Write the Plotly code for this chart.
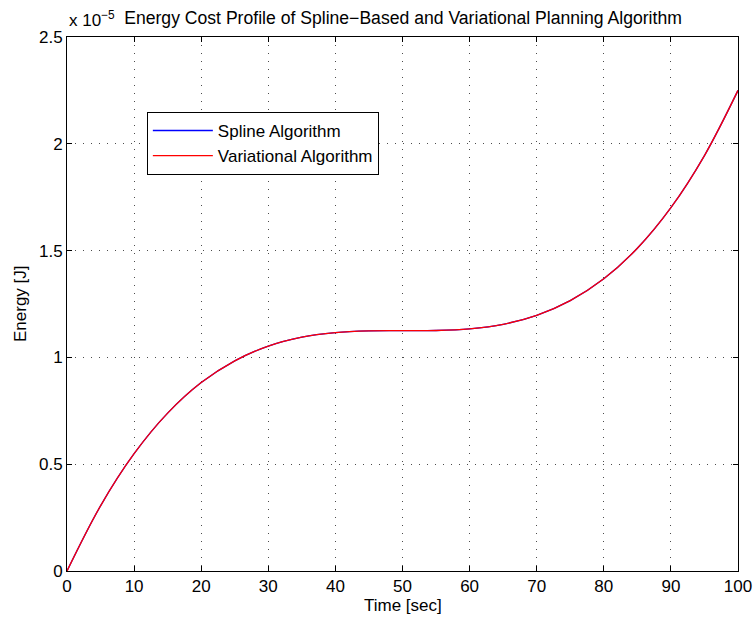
import plotly.graph_objects as go

# Time samples [sec]
time_sec = [0, 5, 10, 15, 20, 25, 30, 35, 40, 45, 50,
            55, 60, 65, 70, 75, 80, 85, 90, 95, 100]

# Energy cost, in units of 1e-5 J
spline_energy = [0.000, 0.305, 0.549, 0.739, 0.882, 0.984, 1.053, 1.095, 1.116, 1.124, 1.125,
                 1.126, 1.134, 1.155, 1.197, 1.266, 1.368, 1.511, 1.701, 1.945, 2.250]
variational_energy = [0.000, 0.305, 0.549, 0.739, 0.882, 0.984, 1.053, 1.095, 1.116, 1.124, 1.125,
                      1.126, 1.134, 1.155, 1.197, 1.266, 1.368, 1.511, 1.701, 1.945, 2.250]

x_ticks = [0, 10, 20, 30, 40, 50, 60, 70, 80, 90, 100]
y_ticks = [0, 0.5, 1, 1.5, 2, 2.5]
y_tick_text = ["0", "0.5", "1", "1.5", "2", "2.5"]

FONT = "Liberation Sans, Arial, Helvetica, sans-serif"
FS = 17

fig = go.Figure()
fig.add_trace(go.Scatter(
    x=time_sec, y=spline_energy, mode="lines", name="Spline Algorithm",
    line=dict(color="#0000ff", width=1.3, shape="spline", smoothing=1.0),
))
fig.add_trace(go.Scatter(
    x=time_sec, y=variational_energy, mode="lines", name="Variational Algorithm",
    line=dict(color="#ff0000", width=1.3, shape="spline", smoothing=1.0),
))

axis_common = dict(
    showline=True, linecolor="black", linewidth=1, mirror="ticks",
    ticks="inside", ticklen=5, tickcolor="black", tickwidth=1,
    showgrid=True, gridcolor="rgba(0,0,0,0.7)", griddash="1px,7px", gridwidth=1,
    zeroline=False, automargin=False,
    tickfont=dict(family=FONT, size=FS, color="black"),
)

fig.update_xaxes(range=[0, 100], tickvals=x_ticks, **axis_common)
fig.update_yaxes(range=[0, 2.5], tickvals=y_ticks, ticktext=y_tick_text, **axis_common)

fig.update_layout(
    width=754, height=622,
    margin=dict(l=67, r=16, t=37, b=51),
    paper_bgcolor="white", plot_bgcolor="white",
    font=dict(family=FONT, size=FS, color="black"),
    title=dict(
        text="Energy Cost Profile of Spline\u2212Based and Variational Planning Algorithm",
        x=0.5345, xanchor="center", y=1 - 18 / 622, yanchor="middle",
        font=dict(family=FONT, size=17.6, color="black"),
    ),
    showlegend=True,
    legend=dict(
        x=0.119, y=0.8596, xanchor="left", yanchor="top",
        bgcolor="white", bordercolor="black", borderwidth=1,
        font=dict(family=FONT, size=FS, color="black"),
        itemwidth=60, tracegroupgap=0,
    ),
    annotations=[
        # axis multiplier
        dict(text="x 10<sup>\u22125</sup>", xref="paper", yref="paper",
             x=0.0, y=1.0, xanchor="left", yanchor="bottom", yshift=5,
             showarrow=False, font=dict(family=FONT, size=FS, color="black")),
        # x-axis title
        dict(text="Time [sec]", xref="paper", yref="paper",
             x=0.5, y=0.0, xanchor="center", yanchor="middle", yshift=-34,
             showarrow=False, font=dict(family=FONT, size=FS, color="black")),
        # y-axis title
        dict(text="Energy [J]", xref="paper", yref="paper", textangle=-90,
             x=0.0, y=0.5, xanchor="center", yanchor="middle", xshift=-47,
             showarrow=False, font=dict(family=FONT, size=FS, color="black")),
    ],
)

fig.write_html("out.html")
